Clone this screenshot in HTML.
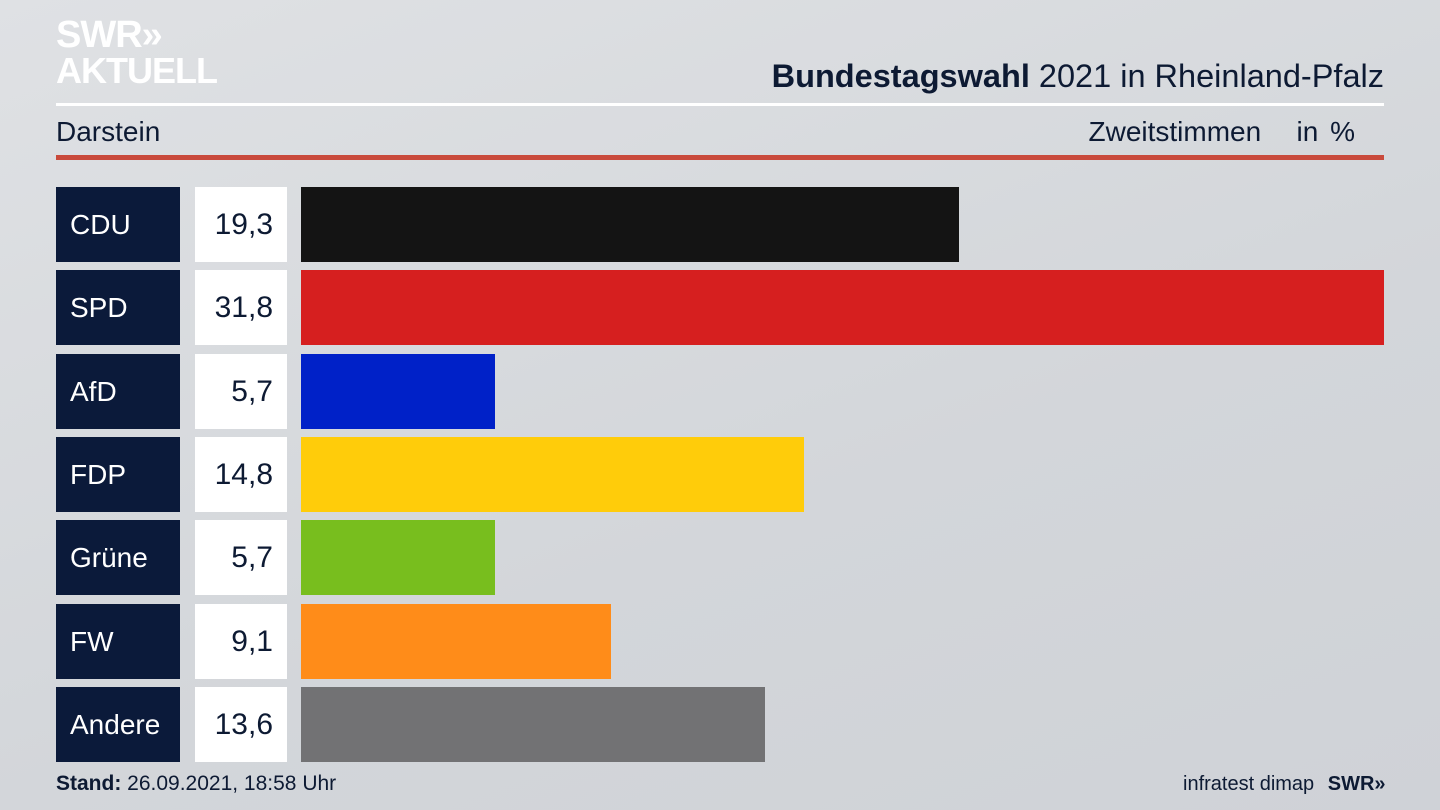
<!DOCTYPE html>
<html><head><meta charset="utf-8"><style>
body{margin:0;width:1440px;height:810px;overflow:hidden;background:linear-gradient(160deg,#dfe1e4 0%,#d3d6da 60%,#cfd2d7 100%);font-family:"Liberation Sans","DejaVu Sans",sans-serif;color:#0d1a33;position:relative}
.a{position:absolute}
.lab{position:absolute;left:56px;width:124px;height:75px;background:#0b1a3a;color:#fff;font-size:28px;line-height:75px;box-sizing:border-box;padding-left:14px}
.val{position:absolute;left:195px;width:92px;height:75px;background:#fff;font-size:30px;line-height:75px;text-align:right;box-sizing:border-box;padding-right:14px;color:#0d1a33}
.bar{position:absolute;left:301px;height:75px}
</style></head><body>
<div class="a" style="left:56px;top:16px;color:#fff;font-weight:bold;font-size:38px;line-height:38px;letter-spacing:-1px">SWR»</div>
<div class="a" style="left:56px;top:53px;color:#fff;font-weight:bold;font-size:36px;line-height:36px;letter-spacing:-1px">AKTUELL</div>
<div class="a" style="right:56px;top:58px;font-size:32.5px;color:#0d1a33"><b>Bundestagswahl</b> 2021 in Rheinland-Pfalz</div>
<div class="a" style="left:56px;top:103px;width:1328px;height:3px;background:#fff"></div>
<div class="a" style="left:56px;top:116px;font-size:28px">Darstein</div>
<div class="a" style="right:85px;top:116px;font-size:28px;word-spacing:4px">Zweitstimmen &nbsp; in %</div>
<div class="a" style="left:56px;top:155px;width:1328px;height:5px;background:#c94a3c"></div>

<div class="lab" style="top:187px">CDU</div><div class="val" style="top:187px">19,3</div><div class="bar" style="top:187px;width:658px;background:#141414"></div>
<div class="lab" style="top:270px">SPD</div><div class="val" style="top:270px">31,8</div><div class="bar" style="top:270px;width:1083px;background:#d61f1f"></div>
<div class="lab" style="top:354px">AfD</div><div class="val" style="top:354px">5,7</div><div class="bar" style="top:354px;width:194px;background:#0021c8"></div>
<div class="lab" style="top:437px">FDP</div><div class="val" style="top:437px">14,8</div><div class="bar" style="top:437px;width:503px;background:#ffcc0a"></div>
<div class="lab" style="top:520px">Grüne</div><div class="val" style="top:520px">5,7</div><div class="bar" style="top:520px;width:194px;background:#78be1e"></div>
<div class="lab" style="top:604px">FW</div><div class="val" style="top:604px">9,1</div><div class="bar" style="top:604px;width:310px;background:#ff8c19"></div>
<div class="lab" style="top:687px">Andere</div><div class="val" style="top:687px">13,6</div><div class="bar" style="top:687px;width:464px;background:#727274"></div>

<div class="a" style="left:56px;top:772px;font-size:21px"><b>Stand:</b> 26.09.2021, 18:58 Uhr</div>
<div class="a" style="left:1183px;top:773px;font-size:20px">infratest dimap <b style="margin-left:8px">SWR»</b></div>
</body></html>
